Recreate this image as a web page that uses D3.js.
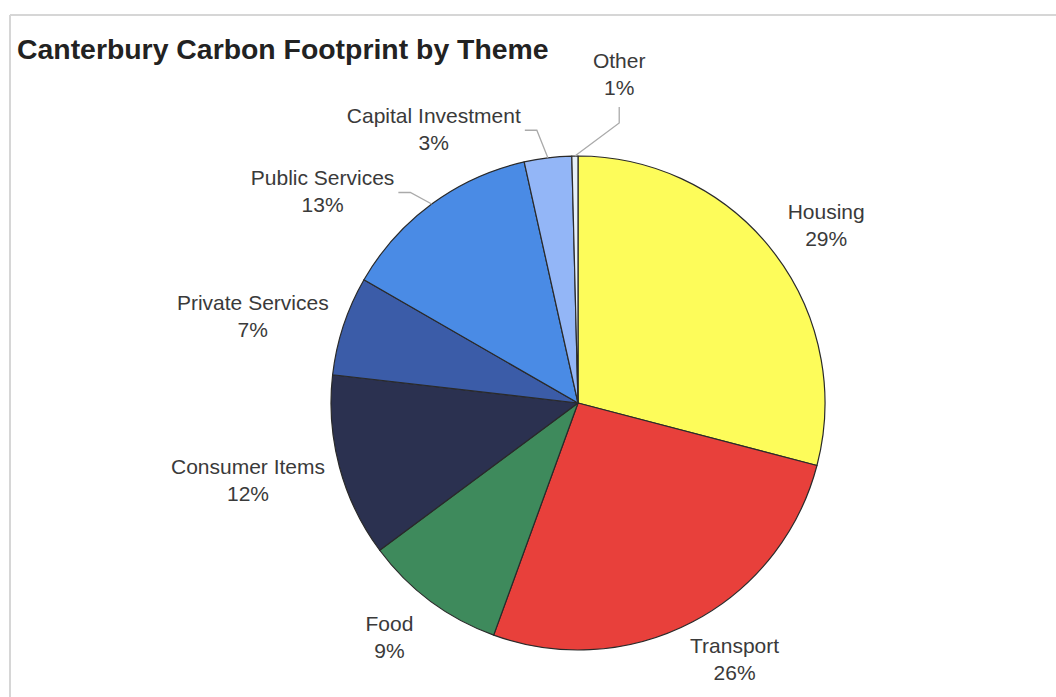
<!DOCTYPE html>
<html>
<head>
<meta charset="utf-8">
<script src="https://cdn.jsdelivr.net/npm/d3@7"></script>
<style>
  body { margin: 0; background: #fff; }
  svg { display: block; font-family: "Liberation Sans", Arial, sans-serif; }
</style>
</head>
<body>
<div id="chart"></div>
<script>
// data, clockwise from 12 o'clock
const themes = ["Housing", "Transport", "Food", "Consumer Items", "Private Services",
                "Public Services", "Capital Investment", "Other"];
const shares = [29.1, 26.5, 9.3, 12.0, 6.5, 13.2, 3.1, 0.4];
const shareLabels = ["29%", "26%", "9%", "12%", "7%", "13%", "3%", "1%"];
const colours = ["#fdfc5a", "#e8403b", "#3e8a5c", "#2b3150", "#3b5ca8",
                 "#4a8be5", "#93b6f7", "#e6f0fa"];

var width = 1056,
    height = 697;

var cx = 578, cy = 403, radius = 247;

// label nudges (Excel style hand placed labels)
var nudge = [[0, 7], [8, -10], [-10, -6], [10, 0], [8, 8], [-50, 32], [-100, 26], [45, -27]];
// leader line kind: none, side (from right side of label) or below
var leader = [null, null, null, null, null, "side", "side", "below"];

var svg = d3.select("#chart")
  .append("svg")
    .attr("width", width)
    .attr("height", height);

// frame
svg.append("line")
  .attr("x1", 10).attr("y1", 15).attr("x2", width).attr("y2", 15)
  .attr("stroke", "#d6d6d6").attr("stroke-width", 2);
svg.append("line")
  .attr("x1", 10).attr("y1", 15).attr("x2", 10).attr("y2", height)
  .attr("stroke", "#d6d6d6").attr("stroke-width", 2);

svg.append("text")
  .attr("x", 17)
  .attr("y", 59)
  .style("font-size", "28.4px")
  .style("font-weight", "bold")
  .attr("fill", "#222")
  .text("Canterbury Carbon Footprint by Theme");

var data = themes.map(function(t, i) {
  return { key: t, value: shares[i], label: shareLabels[i], colour: colours[i], i: i };
});

var pie = d3.pie()
  .sort(null)
  .value(function(d) { return d.value; });
var data_ready = pie(data);

var arc = d3.arc()
  .innerRadius(0)
  .outerRadius(radius);

var g = svg.append("g")
  .attr("transform", "translate(" + cx + "," + cy + ")");

g.selectAll("path")
  .data(data_ready)
  .enter()
  .append("path")
    .attr("d", arc)
    .attr("fill", function(d) { return d.data.colour; })
    .attr("stroke", "#2a2a2a")
    .attr("stroke-width", 1.2)
    .attr("stroke-linejoin", "round");

// labels
var gap = 28;
var labels = g.selectAll("g.lbl")
  .data(data_ready)
  .enter()
  .append("g")
    .attr("class", "lbl");

labels.append("text")
  .attr("text-anchor", "middle")
  .attr("y", -6)
  .style("font-size", "21px")
  .attr("fill", "#3a3a3a")
  .text(function(d) { return d.data.key; });
labels.append("text")
  .attr("text-anchor", "middle")
  .attr("y", 21)
  .style("font-size", "21px")
  .attr("fill", "#3a3a3a")
  .text(function(d) { return d.data.label; });

labels.each(function(d) {
  var box = this.getBBox();
  var a = (d.startAngle + d.endAngle) / 2;
  var w = box.width, h = 52;
  var n = nudge[d.data.i];
  var x = Math.sin(a) * (radius + gap) + Math.sin(a) * w / 2 + n[0];
  var y = -Math.cos(a) * (radius + gap) - Math.cos(a) * h / 2 + n[1];
  d3.select(this).attr("transform", "translate(" + x + "," + (y - 1) + ")");

  var kind = leader[d.data.i];
  if (!kind) return;
  var edge = [Math.sin(a) * radius, -Math.cos(a) * radius];
  var pts;
  if (kind == "side") {
    var sx = x + w / 2 + 4;
    pts = [[sx, y], [sx + 12, y], edge];
  } else {
    var sy = y + h / 2 + 6;
    pts = [[x, sy], [x, sy + 16], edge];
  }
  g.append("path")
    .attr("d", d3.line()(pts))
    .attr("fill", "none")
    .attr("stroke", "#aaa")
    .attr("stroke-width", 1.3);
});
</script>
</body>
</html>
